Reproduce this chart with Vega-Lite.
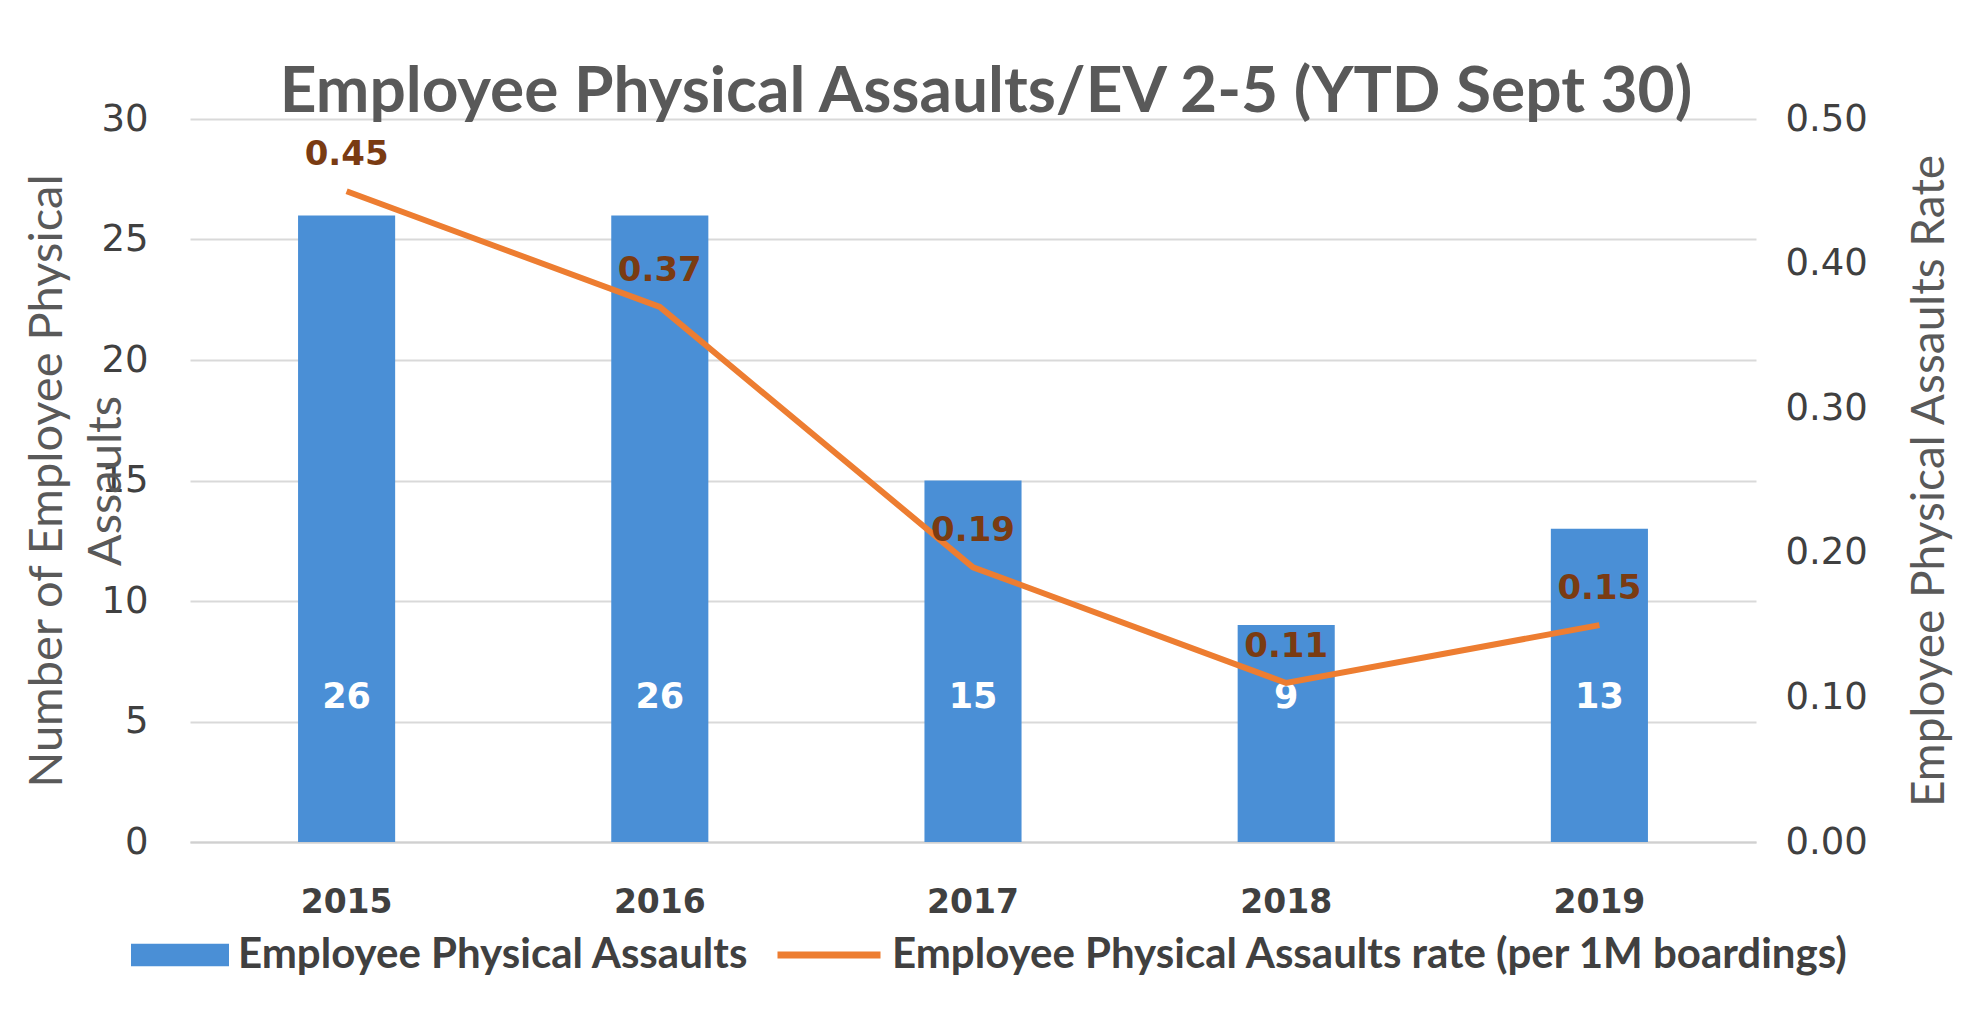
{
  "$schema": "https://vega.github.io/schema/vega-lite/v6.json",
  "width": 1566,
  "height": 723,
  "autosize": "none",
  "padding": {"left": 190, "top": 119, "right": 208, "bottom": 186},
  "background": "white",
  "config": {"view": {"stroke": null}},
  "title": {
    "text": "Employee Physical Assaults/EV 2-5 (YTD Sept 30)",
    "font": "Lato",
    "fontSize": 64,
    "fontWeight": "bold",
    "color": "#595959",
    "anchor": "middle",
    "offset": -25,
    "dx": 13
  },
  "data": {
    "values": [
      {"year": "2015", "assaults": 26, "rate": 0.45},
      {"year": "2016", "assaults": 26, "rate": 0.37},
      {"year": "2017", "assaults": 15, "rate": 0.19},
      {"year": "2018", "assaults": 9, "rate": 0.11},
      {"year": "2019", "assaults": 13, "rate": 0.15}
    ]
  },
  "encoding": {
    "x": {
      "field": "year",
      "type": "nominal",
      "scale": {"paddingInner": 0.69, "paddingOuter": 0.345},
      "axis": {
        "title": null,
        "labelAngle": 0,
        "labelFont": "DejaVu Sans",
        "labelFontWeight": "bold",
        "labelFontSize": 33,
        "labelColor": "#404040",
        "labelPadding": 44,
        "ticks": false,
        "domainColor": "#d0d0d0",
        "domainWidth": 2
      }
    }
  },
  "layer": [
    {
      "layer": [
        {
          "mark": {"type": "bar", "color": "#4A8FD6"},
          "encoding": {
            "y": {
              "field": "assaults",
              "type": "quantitative",
              "scale": {"domain": [0, 30]},
              "axis": {
                "title": ["Number of Employee Physical", "Assaults"],
                "titleFont": "Lato",
                "titleFontSize": 47,
                "titleFontWeight": "normal",
                "titleColor": "#595959",
                "titleBaseline": "middle",
                "titleLineHeight": 59,
                "titleX": -143,
                "values": [0, 5, 10, 15, 20, 25, 30],
                "labelFont": "DejaVu Sans",
                "labelFontSize": 37,
                "labelColor": "#404040",
                "labelPadding": 42,
                "ticks": false,
                "domain": false,
                "grid": true,
                "gridColor": "#d9d9d9",
                "gridWidth": 2
              }
            },
            "color": {
              "datum": "Employee Physical Assaults",
              "type": "nominal",
              "scale": {"range": ["#4A8FD6"]},
              "legend": {
                "title": null,
                "orient": "none",
                "legendX": -59,
                "legendY": 787,
                "padding": 0,
                "symbolType": "M-1,-0.23H1V0.23H-1Z",
                "symbolSize": 9604,
                "symbolStrokeWidth": 0,
                "labelOffset": 9,
                "labelFont": "Lato",
                "labelFontWeight": "bold",
                "labelFontSize": 42,
                "labelColor": "#404040",
                "labelLimit": 1000
              }
            }
          }
        },
        {
          "mark": {"type": "text", "color": "white", "font": "DejaVu Sans", "fontWeight": "bold", "fontSize": 35, "baseline": "middle"},
          "encoding": {
            "y": {"datum": 6, "type": "quantitative"},
            "text": {"field": "assaults", "type": "quantitative"}
          }
        }
      ]
    },
    {
      "layer": [
        {
          "mark": {"type": "line", "strokeWidth": 6},
          "encoding": {
            "y": {
              "field": "rate",
              "type": "quantitative",
              "scale": {"domain": [0, 0.5]},
              "axis": {
                "orient": "right",
                "title": "Employee Physical Assaults Rate",
                "titleFont": "Lato",
                "titleFontSize": 46,
                "titleFontWeight": "normal",
                "titleColor": "#595959",
                "titleAngle": 270,
                "titleBaseline": "middle",
                "titleX": 173,
                "values": [0, 0.1, 0.2, 0.3, 0.4, 0.5],
                "format": ".2f",
                "labelFont": "DejaVu Sans",
                "labelFontSize": 37,
                "labelColor": "#404040",
                "labelPadding": 29,
                "ticks": false,
                "domain": false,
                "grid": false
              }
            },
            "stroke": {
              "datum": "Employee Physical Assaults rate (per 1M boardings)",
              "type": "nominal",
              "scale": {"range": ["#ED7D31"]},
              "legend": {
                "title": null,
                "orient": "none",
                "legendX": 584,
                "legendY": 781,
                "padding": 0,
                "symbolType": "stroke",
                "symbolSize": 10609,
                "symbolStrokeWidth": 7,
                "labelOffset": 8,
                "labelFont": "Lato",
                "labelFontWeight": "bold",
                "labelFontSize": 42,
                "labelColor": "#404040",
                "labelLimit": 1500
              }
            }
          }
        },
        {
          "mark": {"type": "text", "color": "#7a3b12", "font": "DejaVu Sans", "fontWeight": "bold", "fontSize": 34, "baseline": "middle", "dy": -36},
          "encoding": {
            "y": {"field": "rate", "type": "quantitative"},
            "text": {"field": "rate", "type": "quantitative", "format": ".2f"}
          }
        }
      ]
    }
  ],
  "resolve": {"scale": {"y": "independent", "color": "independent", "stroke": "independent"}}
}
